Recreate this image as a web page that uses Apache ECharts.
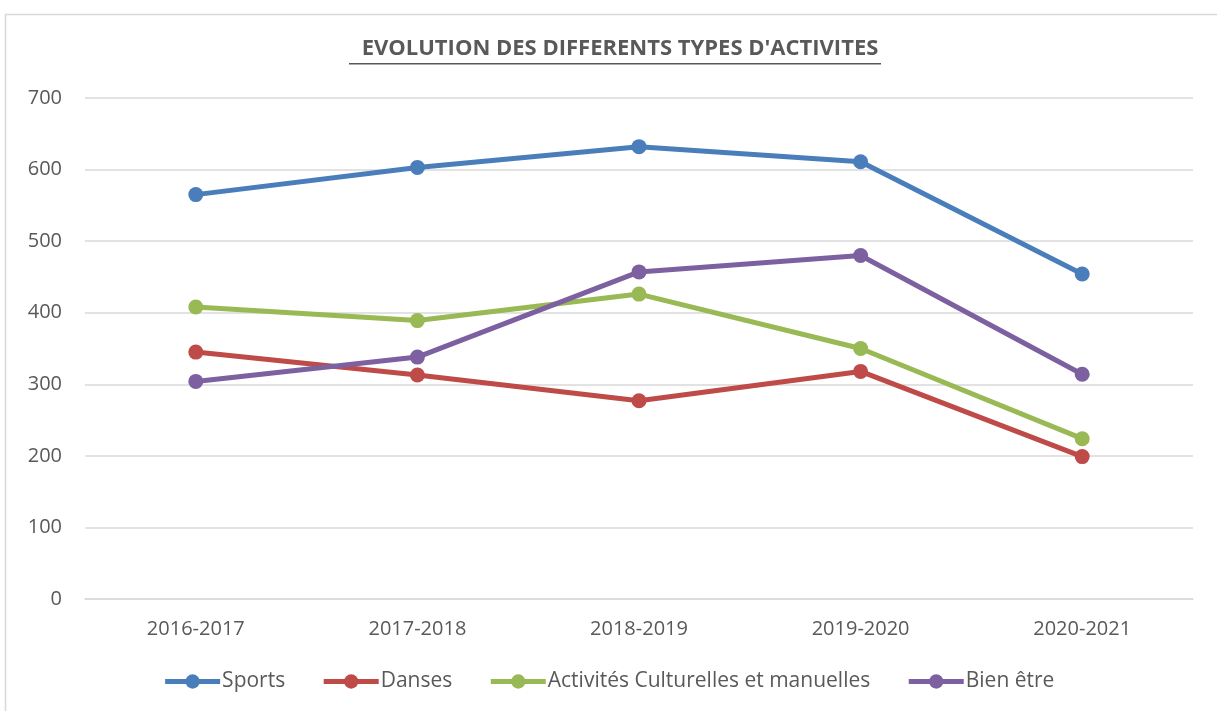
<!DOCTYPE html>
<html>
<head>
<meta charset="utf-8">
<script src="https://cdn.jsdelivr.net/npm/echarts@6/dist/echarts.min.js"></script>
<style>
  html, body { margin: 0; padding: 0; background: #fff; }
  #chart { width: 1217px; height: 711px; }
</style>
</head>
<body>
<div id="chart"></div>
<script>
// données
var saisons = ['2016-2017', '2017-2018', '2018-2019', '2019-2020', '2020-2021'];
var sports = [565, 603, 632, 611, 454];
var danses = [345, 313, 277, 318, 199];
var culturelles = [408, 389, 426, 350, 224];
var bienEtre = [304, 338, 457, 480, 314];
var yTicks = [0, 100, 200, 300, 400, 500, 600, 700];

var police = '"Open Sans", "Noto Sans", sans-serif';
var gris = '#595959';

var myChart = echarts.init(document.getElementById('chart'));

function serie(nom, data, couleur) {
    return {
        name: nom,
        type: 'line',
        data: data,
        symbol: 'circle',
        symbolSize: 15,
        lineStyle: { width: 5, color: couleur },
        itemStyle: { color: couleur },
        z: 3
    };
}

var option = {
    animation: false,
    backgroundColor: '#fff',
    textStyle: { fontFamily: police },
    title: {
        text: "EVOLUTION DES DIFFERENTS TYPES D'ACTIVITES",
        left: 615,
        top: 33,
        textAlign: 'center',
        textStyle: { fontFamily: police, fontSize: 22, fontWeight: 'bold', color: gris }
    },
    graphic: [
        // cadre du graphique
        { type: 'rect', left: 3, top: 12, shape: { width: 1240, height: 720 }, style: { fill: 'none', stroke: '#d9d9d9', lineWidth: 1.5 }, silent: true },
        // soulignement du titre
        { type: 'rect', left: 349, top: 63, shape: { width: 532, height: 1.5 }, style: { fill: gris }, silent: true }
    ],
    grid: { left: 85, right: 24, top: 98, bottom: 112 },
    legend: {
        bottom: 14,
        left: 'center',
        itemWidth: 55,
        itemHeight: 18,
        itemGap: 36,
        lineStyle: { width: 5 },
        textStyle: { fontFamily: police, fontSize: 21, color: gris, padding: [0, 0, 0, -3] },
        data: ['Sports', 'Danses', 'Activités Culturelles et manuelles', 'Bien être']
    },
    xAxis: {
        type: 'category',
        data: saisons,
        boundaryGap: true,
        axisLine: { lineStyle: { color: '#d9d9d9', width: 1.5 } },
        axisTick: { show: false },
        axisLabel: { fontFamily: police, fontSize: 20, color: gris, margin: 20 }
    },
    yAxis: {
        type: 'value',
        min: yTicks[0],
        max: yTicks[yTicks.length - 1],
        interval: 100,
        axisLine: { show: false },
        axisTick: { show: false },
        splitLine: { lineStyle: { color: '#d9d9d9', width: 1.5 } },
        axisLabel: { fontFamily: police, fontSize: 20, color: gris, margin: 23 }
    },
    series: [
        serie('Sports', sports, '#4a7ebb'),
        serie('Danses', danses, '#be4b48'),
        serie('Activités Culturelles et manuelles', culturelles, '#98b954'),
        serie('Bien être', bienEtre, '#7d60a0')
    ]
};

myChart.setOption(option);
</script>
</body>
</html>
